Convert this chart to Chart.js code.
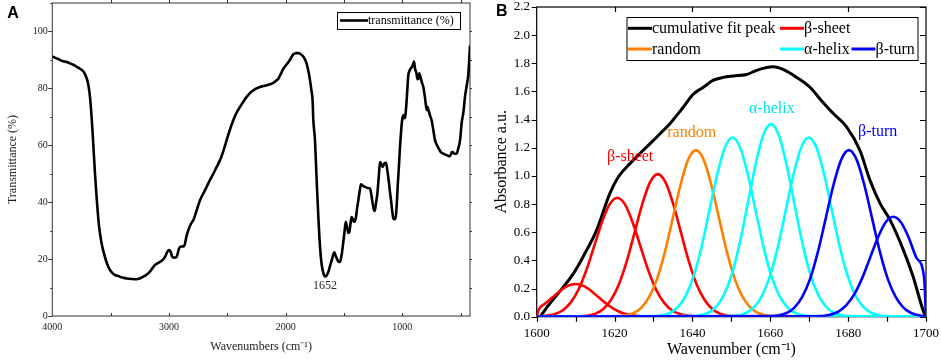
<!DOCTYPE html>
<html>
<head>
<meta charset="utf-8">
<script src="https://cdn.jsdelivr.net/npm/chart.js@4.4.1/dist/chart.umd.min.js"></script>
<style>
  html, body { margin: 0; padding: 0; background: #fff; }
  #wrap { position: relative; width: 941px; height: 362px; overflow: hidden; }
  canvas { position: absolute; top: 0; }
  #ca { left: 0; }
  #cb { left: 470px; }
</style>
</head>
<body>
<div id="wrap">
  <canvas id="ca" width="472" height="362"></canvas>
  <canvas id="cb" width="471" height="362"></canvas>
</div>
<script>
// ---------- Panel A data: FTIR transmittance spectrum ----------
const aWavenumber = [4000,3950,3906,3877,3850,3820,3791,3760,3734,3715,3700,3688,3677,3665,3654,3644,3634,3624,3614,3603,3591,3575,3557,3540,3520,3500,3480,3463,3430,3400,3363,3320,3277,3250,3220,3190,3163,3140,3120,3090,3060,3034,3015,3000,2986,2969,2950,2934,2914,2895,2870,2850,2834,2810,2791,2760,2734,2700,2677,2650,2620,2590,2563,2530,2506,2475,2449,2420,2391,2360,2334,2300,2277,2250,2220,2190,2163,2130,2106,2085,2063,2040,2020,2000,1977,1955,1934,1910,1891,1870,1849,1835,1820,1805,1791,1780,1769,1763,1749,1734,1720,1711,1700,1691,1675,1663,1650,1634,1620,1605,1590,1583,1570,1557,1545,1534,1520,1511,1497,1485,1478,1471,1462,1454,1444,1434,1424,1414,1405,1397,1387,1377,1365,1354,1340,1320,1300,1277,1265,1254,1245,1237,1228,1214,1202,1191,1180,1168,1155,1140,1128,1117,1107,1097,1087,1077,1067,1057,1048,1040,1030,1020,1012,1005,997,987,977,970,963,955,949,940,929,918,906,900,891,880,870,863,855,848,843,832,820,805,791,785,777,763,749,735,720,705,690,670,649,625,597,585,575,568,555,534,520,505,491,477,463,448,434,420];
const aTransmittance = [91.2,90.3,89.5,89.3,88.8,88.3,87.6,86.8,86.0,84.5,82.8,80.5,77,71,64.2,57,50,44,38.4,33,29,25,22,19.5,17.3,15.8,14.9,14.4,14.0,13.5,13.2,13.0,12.9,13.2,13.8,14.6,15.6,16.9,17.9,18.7,19.5,20.8,22.5,23.2,22.6,20.6,20.5,20.8,23.7,24.4,24.6,28,30.2,32.5,33.7,37.5,40.7,43.5,45.4,47.7,50,52.5,54.7,58.5,61.8,65.8,68.8,71.5,73.5,75.5,77,78.6,79.3,80,80.5,80.8,81.1,81.5,81.9,82.6,83.4,85.2,86.9,88,89.2,90.6,92.0,92.4,92.4,92.0,91.2,90.2,88.7,86,82.8,79.5,75.8,69,62,47.5,35,28,21.5,18,14.8,13.9,14.2,15.5,17.5,19.6,21.8,22.4,21,19.8,19,19.1,21.5,24.3,29,33.1,32,30.8,29.2,29.5,32.5,34.8,34,33.1,33.5,34.8,38,40.7,44,46.3,45.8,45.4,45,44.8,42.5,39.5,37.5,36.9,39,43.0,49,54.1,53.2,52.4,53.6,53.8,51,47.7,44,40.7,37,34.3,34,34.6,39,45.4,52,59.4,64,67.6,69.9,70.6,69.5,72,75.8,81,84.6,86,86.9,87.5,88.7,89.4,86.9,85.5,83.2,83.4,85.3,84.5,83.8,82,80.5,76.5,72.3,73.5,72.5,70.5,68.8,65.5,61.8,60.2,59,57.6,57.1,56.6,56.1,56.6,57.6,57.6,57.0,57.1,59,61.8,68,71.5,77,81,85.1,95];
const aXTicks = [4000,3000,2000,1000];
const aYTicks = [0,20,40,60,80,100];
const aLabel = 'transmittance (%)';

// ---------- Panel B data: amide I band deconvolution ----------
const cumulativeFit = [[1600.9,0],[1603,0.08],[1606.8,0.21],[1609.5,0.31],[1612,0.43],[1615.4,0.615],[1618.8,0.876],[1621,0.994],[1624,1.089],[1628.3,1.207],[1631.7,1.30],[1634.5,1.38],[1637.7,1.49],[1640.2,1.58],[1642.8,1.63],[1645.4,1.68],[1647.9,1.70],[1650.5,1.71],[1653.9,1.72],[1656.5,1.75],[1659.1,1.77],[1660.8,1.775],[1663.4,1.755],[1666.8,1.70],[1670.2,1.63],[1673,1.54],[1676.2,1.443],[1679.6,1.349],[1683,1.183],[1685.6,0.97],[1688.2,0.805],[1690.8,0.686],[1694.2,0.473],[1696.7,0.284],[1699.5,0.026],[1700,0]];
const betaSheet1 = [[1600,0],[1600.5,0.05],[1602,0.09],[1604,0.136],[1606,0.183],[1608,0.219],[1610,0.232],[1612,0.219],[1614,0.183],[1616,0.136],[1618,0.09],[1620,0.052],[1622,0.027],[1624,0.013],[1626,0.005],[1630,0.001],[1700,0]];
const betaSheet2 = [[1600,0],[1600.7,0.003],[1604.7,0.019],[1606.7,0.046],[1608.7,0.1],[1610.7,0.191],[1612.7,0.326],[1614.7,0.495],[1616.7,0.666],[1618.7,0.796],[1620.7,0.845],[1622.7,0.796],[1624.7,0.666],[1626.7,0.495],[1628.7,0.326],[1630.7,0.191],[1632.7,0.1],[1634.7,0.046],[1636.7,0.019],[1640.7,0.003],[1700,0]];
const betaSheet3 = [[1600,0],[1611.1,0.003],[1615.1,0.022],[1617.1,0.055],[1619.1,0.12],[1621.1,0.229],[1623.1,0.391],[1625.1,0.594],[1627.1,0.798],[1629.1,0.954],[1631.1,1.013],[1633.1,0.954],[1635.1,0.798],[1637.1,0.594],[1639.1,0.391],[1641.1,0.229],[1643.1,0.12],[1645.1,0.055],[1647.1,0.022],[1651.1,0.003],[1700,0]];
const randomCoil = [[1600,0],[1620.9,0.004],[1624.9,0.026],[1626.9,0.064],[1628.9,0.14],[1630.9,0.267],[1632.9,0.457],[1634.9,0.693],[1636.9,0.932],[1638.9,1.114],[1640.9,1.183],[1642.9,1.114],[1644.9,0.932],[1646.9,0.693],[1648.9,0.457],[1650.9,0.267],[1652.9,0.14],[1654.9,0.064],[1656.9,0.026],[1660.9,0.004],[1700,0]];
const alphaHelix1 = [[1600,0],[1630.3,0.004],[1634.3,0.028],[1636.3,0.069],[1638.3,0.15],[1640.3,0.288],[1642.3,0.491],[1644.3,0.746],[1646.3,1.003],[1648.3,1.199],[1650.3,1.273],[1652.3,1.199],[1654.3,1.003],[1656.3,0.746],[1658.3,0.491],[1660.3,0.288],[1662.3,0.15],[1664.3,0.069],[1666.3,0.028],[1670.3,0.004],[1700,0]];
const alphaHelix2 = [[1600,0],[1640.2,0.004],[1644.2,0.03],[1646.2,0.074],[1648.2,0.161],[1650.2,0.309],[1652.2,0.528],[1654.2,0.802],[1656.2,1.078],[1658.2,1.289],[1660.2,1.368],[1662.2,1.289],[1664.2,1.078],[1666.2,0.802],[1668.2,0.528],[1670.2,0.309],[1672.2,0.161],[1674.2,0.074],[1676.2,0.03],[1680.2,0.004],[1700,0]];
const alphaHelix3 = [[1600,0],[1649.9,0.004],[1653.9,0.028],[1655.9,0.069],[1657.9,0.15],[1659.9,0.288],[1661.9,0.491],[1663.9,0.746],[1665.9,1.003],[1667.9,1.199],[1669.9,1.273],[1671.9,1.199],[1673.9,1.003],[1675.9,0.746],[1677.9,0.491],[1679.9,0.288],[1681.9,0.15],[1683.9,0.069],[1685.9,0.028],[1689.9,0.004],[1700,0]];
const betaTurn1 = [[1600,0],[1660.2,0.004],[1664.2,0.026],[1666.2,0.064],[1668.2,0.14],[1670.2,0.267],[1672.2,0.457],[1674.2,0.693],[1676.2,0.932],[1678.2,1.114],[1680.2,1.183],[1682.2,1.114],[1684.2,0.932],[1686.2,0.693],[1688.2,0.457],[1690.2,0.267],[1692.2,0.14],[1694.2,0.064],[1696.2,0.026],[1700,0]];
const betaTurn2 = [[1600,0],[1671.6,0.002],[1675.6,0.016],[1677.6,0.038],[1679.6,0.084],[1681.6,0.16],[1683.6,0.274],[1685.6,0.416],[1687.6,0.559],[1689.6,0.669],[1691.6,0.71],[1693.6,0.669],[1695.6,0.559],[1697.6,0.416],[1699.5,0.28],[1700,0]];
const bXTicks = [1600,1620,1640,1660,1680,1700];
const bYTicks = [0,0.2,0.4,0.6,0.8,1.0,1.2,1.4,1.6,1.8,2.0,2.2];

// ---------- helpers ----------
const SERIF = '"Liberation Serif", "Times New Roman", serif';
const pts = arr => arr.map(([x, y]) => ({x, y}));

const axisFrame = {
  id: 'axisFrame',
  beforeDatasetsDraw(chart, args, o) {
    const {ctx, chartArea: a, scales: {x, y}} = chart;
    ctx.save();
    ctx.strokeStyle = o.color;
    ctx.lineWidth = o.lineWidth;
    ctx.strokeRect(a.left, a.top, a.right - a.left, a.bottom - a.top);
    ctx.beginPath();
    for (const [side, vals, len] of o.ticks) {
      for (const v of vals) {
        if (side === 'bottom' || side === 'top') {
          const px = Math.round(x.getPixelForValue(v)) + 0.5;
          const y0 = side === 'bottom' ? a.bottom : a.top;
          const dir = side === 'bottom' ? 1 : -1;
          ctx.moveTo(px, y0); ctx.lineTo(px, y0 + dir * len);
        } else {
          const py = Math.round(y.getPixelForValue(v)) + 0.5;
          const x0 = side === 'left' ? a.left : a.right;
          const dir = side === 'left' ? -1 : 1;
          ctx.moveTo(x0, py); ctx.lineTo(x0 + dir * len, py);
        }
      }
    }
    ctx.stroke();
    ctx.restore();
  }
};

const notes = {
  id: 'notes',
  afterDatasetsDraw(chart, args, o) {
    const {ctx, scales: {x, y}} = chart;
    ctx.save();
    ctx.textAlign = 'center';
    ctx.textBaseline = 'middle';
    for (const n of o.items) {
      ctx.font = n.font; ctx.fillStyle = n.color;
      ctx.fillText(n.text, x.getPixelForValue(n.x), y.getPixelForValue(n.y));
    }
    ctx.font = 'bold 16px "Liberation Sans", Arial, sans-serif';
    ctx.fillStyle = '#000';
    ctx.fillText(o.letter[0], o.letter[1], o.letter[2]);
    const L = o.legend;
    ctx.strokeStyle = '#000'; ctx.lineWidth = 1;
    ctx.strokeRect(L.box[0] + 0.5, L.box[1] + 0.5, L.box[2], L.box[3]);
    ctx.textAlign = 'left';
    for (const it of L.items) {
      const ds = chart.data.datasets[it.ds];
      ctx.strokeStyle = ds.borderColor; ctx.lineWidth = L.lineWidth;
      ctx.beginPath(); ctx.moveTo(it.x, it.y); ctx.lineTo(it.x + L.sample, it.y); ctx.stroke();
      ctx.fillStyle = '#000'; ctx.font = L.font;
      ctx.fillText(ds.label, it.x + L.sample, it.y + 0.5);
    }
    ctx.restore();
  }
};

function fixedScale(size, horizontal) {
  return function (scale) {
    if (horizontal) scale.height = size; else scale.width = size;
    scale.paddingTop = 0; scale.paddingBottom = 0;
    scale.paddingLeft = 0; scale.paddingRight = 0;
  };
}
const setTicks = vals => scale => { scale.ticks = vals.map(v => ({value: v})); };
const plain = v => String(v);

// ---------- Chart A ----------
new Chart(document.getElementById('ca'), {
  type: 'line',
  data: {
    datasets: [{
      label: aLabel,
      data: aWavenumber.map((w, i) => ({x: w, y: aTransmittance[i]})),
      borderColor: '#000',
      borderWidth: 2.6,
      pointRadius: 0,
      cubicInterpolationMode: 'monotone',
      fill: false
    }]
  },
  options: {
    responsive: false,
    animation: false,
    events: [],
    layout: {padding: {left: 0, top: 3, right: 2, bottom: 0}},
    plugins: {
      legend: {display: false},
      tooltip: {enabled: false},
      axisFrame: {
        color: '#333', lineWidth: 1,
        ticks: [
          ['bottom', [3500,3000,2500,2000,1500,1000,500], -3],
          ['top', [3500,3000,2500,2000,1500,1000,500], 3],
          ['left', [0,20,40,60,80,100], 4],
          ['left', [10,30,50,70,90,110], 2],
          ['right', [10,20,30,40,50,60,70,80,90,100], 3]
        ]
      },
      notes: {
        items: [{text: '1652', x: 1663, y: 10.6, color: '#222', font: '12px ' + SERIF}],
        letter: ['A', 13, 14],
        legend: {
          box: [337, 12, 123, 17],
          lineWidth: 2.6, sample: 28, font: '12px ' + SERIF,
          items: [{ds: 0, x: 340, y: 20.5}]
        }
      }
    },
    scales: {
      x: {
        type: 'linear', reverse: true, min: 420, max: 4000,
        afterBuildTicks: setTicks(aXTicks),
        afterFit: fixedScale(46, true),
        grid: {display: false}, border: {display: false},
        ticks: {padding: -3, color: '#222', font: {family: SERIF, size: 10}, maxRotation: 0, autoSkip: false, callback: plain},
        title: {display: true, text: 'Wavenumbers (cm\u207B\u00B9)', color: '#222', font: {family: SERIF, size: 12}, padding: {top: 0, bottom: 8}}
      },
      y: {
        type: 'linear', min: 0, max: 110,
        afterBuildTicks: setTicks(aYTicks),
        afterFit: fixedScale(52.3, false),
        grid: {display: false}, border: {display: false},
        ticks: {padding: -3.4, color: '#222', font: {family: SERIF, size: 10}, callback: plain},
        title: {display: true, text: 'Transmittance (%)', color: '#222', font: {family: SERIF, size: 12}, padding: {top: 5.5, bottom: 0}}
      }
    }
  },
  plugins: [axisFrame, notes]
});

// ---------- Chart B ----------
const lineDs = (label, arr, color, width, order) => ({
  label, data: pts(arr), borderColor: color, borderWidth: width,
  pointRadius: 0, cubicInterpolationMode: 'monotone', fill: false, order
});

new Chart(document.getElementById('cb'), {
  type: 'line',
  data: {
    datasets: [
      lineDs('cumulative fit peak', cumulativeFit, '#000000', 3, 6),
      lineDs('\u03B2-sheet', betaSheet1, '#FF0000', 2.6, 5),
      lineDs('\u03B2-sheet', betaSheet2, '#FF0000', 2.6, 5),
      lineDs('\u03B2-sheet', betaSheet3, '#FF0000', 2.6, 5),
      lineDs('random', randomCoil, '#FF8000', 2.6, 4),
      lineDs('\u03B1-helix', alphaHelix1, '#00FFFF', 2.6, 3),
      lineDs('\u03B1-helix', alphaHelix2, '#00FFFF', 2.6, 3),
      lineDs('\u03B1-helix', alphaHelix3, '#00FFFF', 2.6, 3),
      lineDs('\u03B2-turn', betaTurn1, '#0000FF', 2.6, 2),
      lineDs('\u03B2-turn', betaTurn2, '#0000FF', 2.6, 1)
    ]
  },
  options: {
    responsive: false,
    animation: false,
    events: [],
    layout: {padding: {left: 0, top: 7, right: 15, bottom: 0}},
    plugins: {
      legend: {display: false},
      tooltip: {enabled: false},
      axisFrame: {
        color: '#000', lineWidth: 1.2,
        ticks: [
          ['bottom', [1600,1610,1620,1630,1640,1650,1660,1670,1680,1690,1700], 5],
          ['top', [1620,1640,1660,1680], -5],
          ['left', bYTicks, 5],
          ['right', bYTicks, -6]
        ]
      },
      notes: {
        items: [
          {text: '\u03B2-sheet', x: 1624, y: 1.136, color: '#FF0000', font: '16px ' + SERIF},
          {text: 'random', x: 1639.8, y: 1.306, color: '#FF8000', font: '16px ' + SERIF},
          {text: '\u03B1-helix', x: 1660.4, y: 1.474, color: '#00E5E5', font: '16px ' + SERIF},
          {text: '\u03B2-turn', x: 1687.6, y: 1.313, color: '#0000FF', font: '16px ' + SERIF}
        ],
        letter: ['B', 31.7, 11.7],
        legend: {
          box: [156.5, 17, 291, 43],
          lineWidth: 3, sample: 24, font: '16px ' + SERIF,
          items: [
            {ds: 0, x: 158, y: 28.3},
            {ds: 1, x: 310, y: 28.3},
            {ds: 4, x: 158, y: 49},
            {ds: 5, x: 310, y: 49},
            {ds: 8, x: 381.5, y: 49}
          ]
        }
      }
    },
    scales: {
      x: {
        type: 'linear', min: 1600, max: 1700,
        afterBuildTicks: setTicks(bXTicks),
        afterFit: fixedScale(45.3, true),
        grid: {display: false}, border: {display: false},
        ticks: {padding: 1.5, color: '#000', font: {family: SERIF, size: 13}, maxRotation: 0, autoSkip: false, callback: plain},
        title: {display: true, text: 'Wavenumber (cm\u207B\u00B9)', color: '#000', font: {family: SERIF, size: 16}, padding: {top: 0, bottom: 2.4}}
      },
      y: {
        type: 'linear', min: 0, max: 2.2,
        afterBuildTicks: setTicks(bYTicks),
        afterFit: fixedScale(66.7, false),
        grid: {display: false}, border: {display: false},
        ticks: {padding: -1.3, color: '#000', font: {family: SERIF, size: 13}, callback: v => Number(v).toFixed(1)},
        title: {display: true, text: 'Absorbance a.u.', color: '#000', font: {family: SERIF, size: 16}, padding: {top: 22, bottom: 0}}
      }
    }
  },
  plugins: [axisFrame, notes]
});
</script>
</body>
</html>
